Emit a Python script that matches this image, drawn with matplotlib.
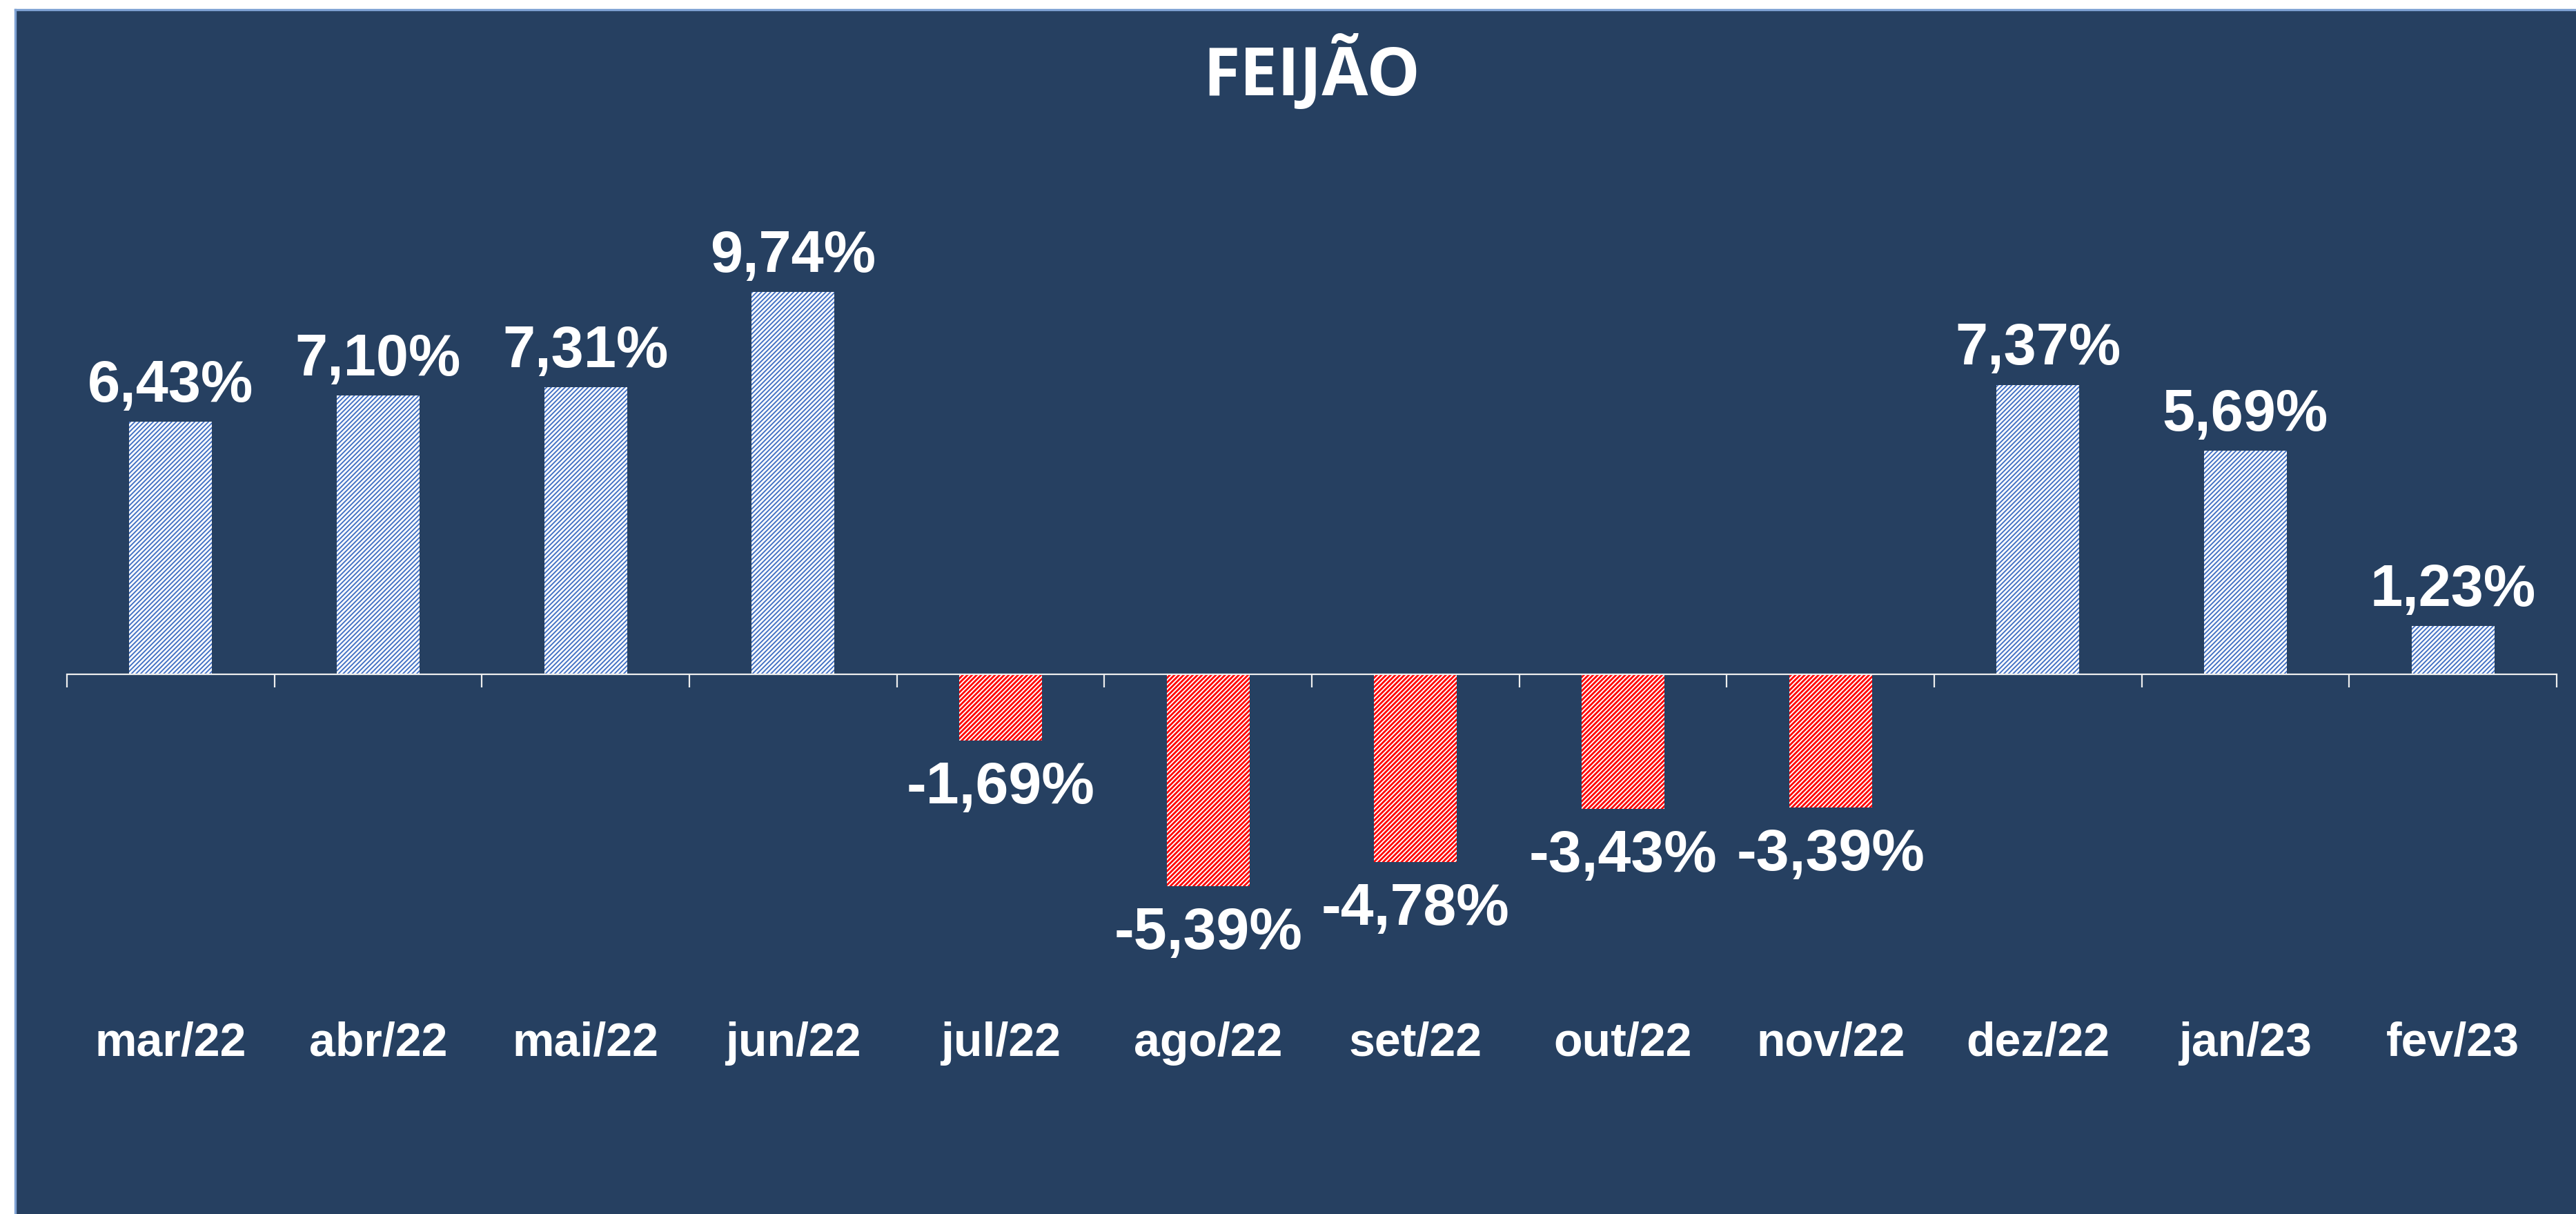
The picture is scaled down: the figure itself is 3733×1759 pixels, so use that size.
import matplotlib
matplotlib.use("Agg")
import matplotlib.pyplot as plt
from matplotlib.patches import Rectangle
from matplotlib.lines import Line2D

# --- DATEN ---
TITEL = "FEIJÃO"
MONATE = ["mar/22", "abr/22", "mai/22", "jun/22", "jul/22", "ago/22",
          "set/22", "out/22", "nov/22", "dez/22", "jan/23", "fev/23"]
WERTE = [6.43, 7.10, 7.31, 9.74, -1.69, -5.39, -4.78, -3.43, -3.39, 7.37, 5.69, 1.23]

# --- STIL ---
BG = "#264061"
RAND = "#7FA2D4"
BLAU = "#4472C4"
ROT = "#FF0000"
WEISS = "white"

DPI = 200
plt.rcParams["font.family"] = ["Liberation Sans", "DejaVu Sans"]

fig = plt.figure(figsize=(3733 / DPI, 1759 / DPI), dpi=DPI)
fig.patch.set_facecolor("white")

# Hintergrund (links/oben ein schmaler weisser Rand)
x0 = 22 / 3733
y1 = (1759 - 14) / 1759
fig.patches.append(Rectangle((x0, 0), 1 - x0, y1, transform=fig.transFigure,
                             facecolor=BG, edgecolor="none", zorder=-10))
fig.lines.append(Line2D([x0, x0], [0, y1], transform=fig.transFigure, color=RAND, lw=1.2, zorder=-5))
fig.lines.append(Line2D([x0, 1], [y1, y1], transform=fig.transFigure, color=RAND, lw=1.2, zorder=-5))

# Achse: 0-Linie bei y=977px, 56.9 px pro Prozentpunkt
y_min, y_max = -6.0, 13.5
px_pro = 56.9
top_px = 977 - y_max * px_pro
bot_px = 977 - y_min * px_pro
ax = fig.add_axes([97 / 3733, (1759 - bot_px) / 1759,
                   3608 / 3733, (bot_px - top_px) / 1759])
ax.set_facecolor("none")
ax.set_zorder(1)
ax.set_xlim(-0.5, len(WERTE) - 0.5)
ax.set_ylim(y_min, y_max)

x = range(len(WERTE))
for i, v in zip(x, WERTE):
    col = BLAU if v >= 0 else ROT
    # rote Schraffur etwas kraeftiger
    with plt.rc_context({"hatch.linewidth": 0.7 if v >= 0 else 1.0}):
        ax.bar(i, v, width=0.4, facecolor="white", edgecolor=col,
               hatch="//////////", linewidth=0, zorder=2)

    txt = f"{v:.2f}".replace(".", ",") + "%"
    if v >= 0:
        ax.annotate(txt, (i, v), xytext=(0, 10.5), textcoords="offset points",
                    ha="center", va="baseline", fontsize=30.5, fontweight="bold", color=WEISS)
    else:
        ax.annotate(txt, (i, v), xytext=(0, -10.5), textcoords="offset points",
                    ha="center", va="top", fontsize=31, fontweight="bold", color=WEISS)

    # Monatsbeschriftung unterhalb
    ax.text(i, (977 - 1512) / px_pro, MONATE[i], ha="center", va="center",
            fontsize=24.5, fontweight="bold", color=WEISS)

# Achsenlinie und Tickmarks an den Kategoriegrenzen
for s in ["top", "left", "right"]:
    ax.spines[s].set_visible(False)
ax.spines["bottom"].set_position(("data", 0))
ax.spines["bottom"].set_color("#EEEEEE")
ax.spines["bottom"].set_linewidth(0.8)
ax.spines["bottom"].set_zorder(3)
ax.set_xticks([k - 0.5 for k in range(len(WERTE) + 1)])
ax.set_xticklabels([])
ax.tick_params(axis="x", direction="out", length=6.8, width=0.8, color="#EEEEEE")
ax.set_yticks([])

fig.text(1901 / 3733, 1 - 106 / 1759, TITEL, ha="center", va="center",
         fontsize=35, fontweight="bold", color=WEISS,
         family=["Open Sans", "DejaVu Sans"])

plt.savefig("out.png", dpi=DPI, facecolor=fig.get_facecolor())
plt.close()
